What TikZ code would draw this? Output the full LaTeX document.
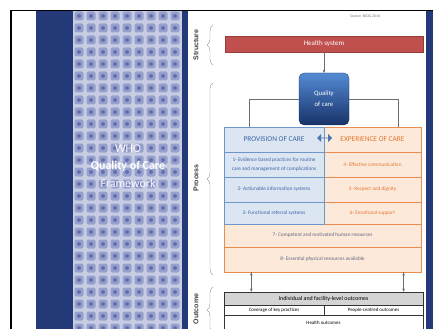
\documentclass[tikz,border=0pt]{standalone}
\usepackage{fontspec}
\setmainfont{Carlito}
\newfontfamily\stagefont{Liberation Sans}
\usepackage{tikz}
\usetikzlibrary{calc,arrows.meta,shapes.arrows,decorations.pathreplacing}

\definecolor{navy}{RGB}{36,57,120}
\definecolor{patbase}{RGB}{200,205,228}
\definecolor{patmid}{RGB}{150,160,205}
\definecolor{patdark}{RGB}{100,112,175}
\definecolor{sysred}{RGB}{192,80,77}
\definecolor{sysline}{RGB}{150,60,58}
\definecolor{qtop}{RGB}{84,138,212}
\definecolor{qbottom}{RGB}{24,50,104}
\definecolor{provfill}{RGB}{220,230,242}
\definecolor{provline}{RGB}{110,150,200}
\definecolor{provtext}{RGB}{60,100,165}
\definecolor{expfill}{RGB}{253,233,217}
\definecolor{expline}{RGB}{232,140,80}
\definecolor{exptext}{RGB}{226,118,50}
\definecolor{widetext}{RGB}{95,105,130}
\definecolor{linegray}{RGB}{110,110,110}

\begin{document}
\begin{tikzpicture}[x=0.5mm, y=-0.5mm,
		box_style/.style={rectangle,draw,inner sep=1pt,align=center},
		prov_style/.style={box_style,draw=provline,line width=0.9pt,fill=provfill,text=provtext,minimum width=50mm,font=\fontsize{7.5}{12}\selectfont},
		exp_style/.style={box_style,draw=expline,line width=1.1pt,fill=expfill,text=exptext,minimum width=48.5mm,font=\fontsize{7.5}{12}\selectfont},
		wide_style/.style={box_style,draw=expline,line width=1.1pt,fill=expfill,text=widetext,minimum width=98.5mm,font=\fontsize{7.5}{12}\selectfont},
		out_style/.style={box_style,draw=black!80,line width=0.6pt,fill=white,font=\fontsize{7}{9}\selectfont},
		head_style/.style={font=\fontsize{10.5}{12}\selectfont,minimum height=12.5mm},
		stage_style/.style={rotate=90,text=black!75,font=\stagefont\bfseries\fontsize{10}{12}\selectfont},
		edge_style/.style={draw=linegray,line width=0.7pt},
		arrow_style/.style={edge_style,-{Stealth[length=1.6mm,width=1.3mm]}},
		brace_style/.style={draw=black!45,line width=0.5pt,decorate,decoration={brace,amplitude=3mm}}]
		
		\path[use as bounding box] (0,0) rectangle (433,329);
		\clip (0,0) rectangle (433,329);
		
		% side panel
		\fill[navy] (36,11) rectangle (73,329);
		\fill[patbase] (73,11) rectangle (182,329);
		\foreach \col in {0,...,8}
			\foreach \row in {0,...,26} {
				\fill[patmid,rounded corners=1mm] (74.5+12*\col,11.5+12*\row) rectangle +(9,9);
				\fill[patdark] (79+12*\col,16+12*\row) circle (1mm);
			}
		\fill[navy] (182,11) rectangle (188,329);
		\fill[navy] (426,11) rectangle (433,329);
		\draw[black,line width=1.6pt] (11,329) -- (11,10.5) -- (433,10.5);
		
		\node[text=white,align=center,font=\fontsize{17}{25}\selectfont] (who_title) at (128,166)
			{WHO\\\textbf{Quality of Care}\\Framework};
		
		% stages
		\node[stage_style] (structure_label) at (196,45) {Structure};
		\node[stage_style] (process_label) at (196,178) {Process};
		\node[stage_style] (outcome_label) at (196,309) {Outcome};
		\draw[brace_style] (213,65) -- (213,25);
		\draw[brace_style] (213,275) -- (213,83);
		\draw[brace_style] (213,333) -- (213,287);
		
		\node[text=black!55,font=\fontsize{5.5}{6}\selectfont] (source) at (365,16) {Source: BJOG 2016};
		
		\node[box_style,fill=sysred,draw=sysline,line width=0.8pt,text=white,minimum width=99mm,minimum height=8mm,font=\fontsize{10}{11}\selectfont] (health) at (324,44) {Health system};
		\node[box_style,draw=qbottom,top color=qtop,bottom color=qbottom,rounded corners=2.5mm,text=white,minimum width=25mm,minimum height=26mm,font=\fontsize{9.5}{16}\selectfont] (quality) at (324,99) {Quality\\of care};
		
		\node[wide_style,minimum height=11.5mm] (wide_seven) at (322.5,235.5) {7- Competent and motivated human resources};
		\node[wide_style,minimum height=12.5mm] (wide_eight) at (322.5,259.5) {8- Essential physical resources available};
		
		\node[exp_style,head_style] (exp_head) at (372.5,139.5) {EXPERIENCE OF CARE};
		\node[exp_style,minimum height=12.5mm] (exp_one) at (372.5,164.5) {4- Effective communication};
		\node[exp_style,minimum height=12.5mm] (exp_two) at (372.5,189.5) {5- Respect and dignity};
		\node[exp_style,minimum height=11mm] (exp_three) at (372.5,213) {6- Emotional support};
		
		\node[prov_style,head_style] (prov_head) at (274,139.5) {PROVISION OF CARE};
		\node[prov_style,minimum height=12.5mm] (prov_one) at (274,164.5) {1- Evidence based practices for routine\\care and management of complications};
		\node[prov_style,minimum height=12.5mm] (prov_two) at (274,189.5) {2- Actionable information systems};
		\node[prov_style,minimum height=11mm] (prov_three) at (274,213) {3- Functional referral systems};
		
		\node[double arrow,fill=qtop!85!black,minimum height=7.5mm,minimum width=4mm,inner sep=0pt,double arrow head extend=0.8mm] (swap) at (324.5,138) {};
		
		\node[out_style,fill=black!17,minimum width=99.5mm,minimum height=6.5mm,font=\fontsize{8.5}{10}\selectfont] (out_head) at (323.5,298.5) {Individual and facility-level outcomes};
		\node[out_style,minimum width=50mm,minimum height=5mm] (out_cov) at (274,310) {Coverage of key practices};
		\node[out_style,minimum width=49.5mm,minimum height=5mm] (out_people) at (373.5,310) {People-centred outcomes};
		\node[out_style,minimum width=99.5mm,minimum height=8mm] (out_health) at (323.5,323) {Health outcomes};
		
		\coordinate (left_drop) at ($(wide_eight.south west)!0.14!(wide_eight.south east)$);
		\coordinate (right_drop) at ($(wide_eight.south west)!0.91!(wide_eight.south east)$);
		
		\draw[arrow_style] (health) edge (quality);
		\draw[edge_style] (quality.west) -| ($(prov_head.north west)!0.25!(prov_head.north east)$);
		\draw[edge_style] (quality.east) -| ($(exp_head.north west)!0.76!(exp_head.north east)$);
		\draw[arrow_style] (left_drop) edge (left_drop |- out_head.north);
		\draw[arrow_style] (right_drop) edge (right_drop |- out_head.north);
		
\end{tikzpicture}
\end{document}
